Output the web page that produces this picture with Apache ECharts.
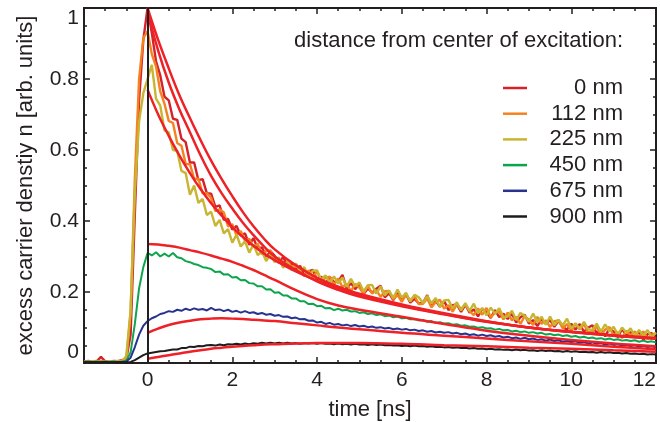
<!DOCTYPE html>
<html>
<head>
<meta charset="utf-8">
<script src="https://cdn.jsdelivr.net/npm/echarts@6/dist/echarts.min.js"></script>
<style>html,body{margin:0;padding:0;background:#fff}#c{width:660px;height:422px}</style>
</head>
<body>
<div id="c"></div>
<script>
// ---- sampling grid of the measured traces (ns) ----
const T0 = -1.5, DT = 0.1;

const sig0 = [
0.004,0.006,0.003,0.005,0.017,0.005,0.004,0.006,0.005,0.008,
0.012,0.08,0.42,0.74,0.91,1.0,0.93,0.85,0.81,0.75,
0.74,0.688,0.685,0.632,0.622,0.565,0.565,0.515,0.518,0.478,
0.477,0.44,0.444,0.403,0.406,0.376,0.386,0.359,0.365,0.333,
0.352,0.322,0.326,0.299,0.315,0.302,0.282,0.299,0.275,0.28,
0.262,0.274,0.246,0.258,0.262,0.235,0.243,0.224,0.242,0.228,
0.23,0.248,0.21,0.225,0.208,0.222,0.194,0.21,0.198,0.209,
0.218,0.185,0.197,0.177,0.197,0.181,0.194,0.17,0.181,0.168,
0.169,0.191,0.158,0.175,0.158,0.175,0.149,0.163,0.165,0.144,
0.164,0.142,0.151,0.131,0.153,0.142,0.127,0.149,0.129,0.139,
0.124,0.139,0.114,0.129,0.136,0.111,0.121,0.104,0.124,0.111,
0.121,0.102,0.119,0.101,0.094,0.111,0.094,0.11,0.088,0.1,
0.106,0.084,0.094,0.075,0.097,0.088,0.073,0.096,0.077,0.087,
0.073,0.089,0.065,0.081,0.084,0.068];

const sig112 = [
0.003,0.005,0.004,0.004,0.006,0.005,0.003,0.005,0.004,0.006,
0.015,0.14,0.52,0.8,0.915,0.935,0.87,0.835,0.765,0.73,
0.682,0.676,0.62,0.612,0.561,0.56,0.519,0.519,0.478,0.478,
0.465,0.428,0.433,0.424,0.385,0.391,0.359,0.372,0.344,0.35,
0.326,0.336,0.306,0.315,0.317,0.287,0.293,0.271,0.287,0.27,
0.28,0.258,0.245,0.261,0.241,0.258,0.23,0.24,0.243,0.22,
0.238,0.214,0.223,0.202,0.223,0.212,0.196,0.217,0.196,0.205,
0.186,0.202,0.203,0.18,0.192,0.172,0.192,0.176,0.189,0.166,
0.167,0.182,0.157,0.171,0.178,0.153,0.163,0.145,0.165,0.152,
0.165,0.146,0.135,0.154,0.136,0.155,0.129,0.141,0.145,0.123,
0.142,0.12,0.13,0.11,0.132,0.122,0.107,0.13,0.11,0.12,
0.101,0.118,0.12,0.097,0.11,0.09,0.11,0.095,0.109,0.086,
0.088,0.103,0.078,0.094,0.101,0.077,0.087,0.07,0.091,0.078,
0.089,0.072,0.089,0.068,0.08,0.084];

const sig225 = [
0.004,0.003,0.005,0.006,0.004,0.003,0.005,0.004,0.006,0.005,
0.02,0.15,0.48,0.68,0.76,0.8,0.84,0.745,0.725,0.655,
0.65,0.6,0.598,0.541,0.535,0.474,0.5,0.451,0.462,0.417,
0.426,0.386,0.403,0.365,0.377,0.339,0.362,0.328,0.343,0.311,
0.334,0.304,0.314,0.287,0.308,0.284,0.298,0.268,0.284,0.262,
0.28,0.26,0.27,0.243,0.26,0.261,0.234,0.247,0.226,0.244,
0.224,0.241,0.215,0.237,0.216,0.227,0.202,0.219,0.22,0.195,
0.216,0.19,0.204,0.183,0.207,0.184,0.198,0.173,0.192,0.185,
0.169,0.189,0.168,0.183,0.158,0.176,0.178,0.154,0.171,0.148,
0.169,0.147,0.167,0.14,0.155,0.134,0.156,0.139,0.154,0.129,
0.131,0.147,0.121,0.141,0.133,0.116,0.139,0.115,0.13,0.108,
0.131,0.106,0.122,0.106,0.125,0.097,0.112,0.096,0.116,0.095,
0.093,0.111,0.088,0.109,0.089,0.102,0.08,0.1,0.085,0.098,
0.076,0.093,0.077,0.093,0.072,0.086];

const sig450 = [
0.003,0.004,0.003,0.004,0.003,0.004,0.003,0.004,0.003,0.004,
0.006,0.03,0.11,0.21,0.27,0.31,0.303,0.312,0.3,0.308,
0.3,0.31,0.298,0.295,0.287,0.284,0.279,0.276,0.27,0.268,
0.265,0.256,0.258,0.249,0.25,0.241,0.242,0.233,0.234,0.225,
0.224,0.216,0.216,0.207,0.208,0.198,0.199,0.19,0.19,0.182,
0.182,0.174,0.174,0.166,0.167,0.16,0.161,0.154,0.155,0.149,
0.153,0.148,0.15,0.145,0.146,0.141,0.143,0.138,0.14,0.135,
0.137,0.132,0.134,0.129,0.131,0.126,0.127,0.123,0.124,0.12,
0.121,0.116,0.118,0.113,0.115,0.111,0.112,0.108,0.109,0.105,
0.106,0.102,0.103,0.099,0.101,0.097,0.098,0.094,0.096,0.092,
0.093,0.089,0.091,0.087,0.089,0.085,0.087,0.083,0.085,0.08,
0.082,0.078,0.08,0.076,0.078,0.074,0.076,0.072,0.074,0.07,
0.072,0.068,0.07,0.066,0.069,0.065,0.067,0.063,0.065,0.062,
0.064,0.06,0.063,0.059,0.061,0.058];

const sig675 = [
0.003,0.002,0.003,0.002,0.003,0.002,0.003,0.002,0.003,0.003,
0.004,0.015,0.045,0.08,0.105,0.118,0.126,0.131,0.138,0.141,
0.146,0.144,0.15,0.147,0.153,0.149,0.154,0.15,0.152,0.148,
0.155,0.149,0.151,0.146,0.15,0.144,0.147,0.142,0.146,0.141,
0.143,0.138,0.141,0.136,0.138,0.133,0.135,0.13,0.131,0.126,
0.128,0.123,0.124,0.119,0.12,0.114,0.116,0.11,0.113,0.108,
0.11,0.106,0.108,0.104,0.107,0.103,0.105,0.101,0.103,0.099,
0.101,0.097,0.099,0.095,0.097,0.094,0.096,0.092,0.094,0.09,
0.092,0.088,0.09,0.086,0.088,0.085,0.087,0.083,0.085,0.081,
0.083,0.079,0.081,0.077,0.08,0.076,0.078,0.074,0.076,0.072,
0.074,0.07,0.072,0.068,0.071,0.067,0.069,0.065,0.067,0.063,
0.066,0.062,0.064,0.06,0.062,0.059,0.061,0.057,0.059,0.055,
0.058,0.054,0.056,0.052,0.055,0.051,0.053,0.049,0.051,0.048,
0.05,0.046,0.049,0.045,0.047,0.044];

const sig900 = [
0.002,0.002,0.003,0.002,0.002,0.003,0.002,0.002,0.003,0.002,
0.002,0.003,0.008,0.015,0.022,0.027,0.029,0.031,0.033,0.034,
0.036,0.038,0.038,0.042,0.042,0.046,0.045,0.048,0.047,0.05,
0.051,0.049,0.052,0.05,0.053,0.052,0.054,0.052,0.055,0.053,
0.056,0.054,0.057,0.055,0.057,0.055,0.057,0.055,0.057,0.055,
0.056,0.054,0.056,0.055,0.056,0.054,0.056,0.054,0.055,0.053,
0.055,0.053,0.054,0.052,0.054,0.052,0.053,0.051,0.053,0.051,
0.052,0.05,0.051,0.049,0.05,0.048,0.049,0.047,0.049,0.047,
0.048,0.046,0.047,0.045,0.046,0.044,0.045,0.043,0.044,0.042,
0.043,0.041,0.042,0.04,0.041,0.039,0.04,0.038,0.039,0.037,
0.038,0.036,0.038,0.036,0.037,0.035,0.036,0.034,0.036,0.034,
0.035,0.033,0.034,0.032,0.034,0.032,0.033,0.031,0.032,0.03,
0.031,0.029,0.031,0.029,0.03,0.028,0.029,0.027,0.028,0.026,
0.027,0.025,0.026,0.024,0.025,0.024];

// ---- model fits (red curves) ----
const fitT   = [0,0.25,0.5,0.75,1,1.25,1.5,1.75,2,2.25,2.5,2.75,3,3.5,4,4.5,5,6,7,8,9,10,11,12];
const fit0   = [1.0,0.91,0.83,0.755,0.69,0.628,0.57,0.518,0.47,0.425,0.385,0.35,0.32,0.275,0.24,0.215,0.195,0.165,0.14,0.118,0.1,0.088,0.078,0.07];
const fit112 = [0.99,0.88,0.79,0.715,0.65,0.585,0.527,0.478,0.435,0.395,0.36,0.328,0.3,0.262,0.23,0.206,0.187,0.16,0.137,0.116,0.1,0.087,0.077,0.069];
const fit225 = [0.77,0.70,0.64,0.585,0.535,0.49,0.45,0.415,0.383,0.355,0.33,0.308,0.29,0.258,0.232,0.21,0.19,0.162,0.138,0.117,0.1,0.087,0.077,0.068];
const fit450 = [0.335,0.334,0.33,0.325,0.318,0.311,0.303,0.294,0.285,0.274,0.262,0.248,0.234,0.205,0.18,0.162,0.15,0.13,0.11,0.091,0.077,0.065,0.055,0.047];
const fit675 = [0.085,0.097,0.107,0.114,0.119,0.123,0.125,0.126,0.125,0.124,0.122,0.12,0.118,0.112,0.106,0.1,0.095,0.085,0.077,0.069,0.061,0.054,0.046,0.039];
const fit900 = [0.012,0.017,0.022,0.027,0.032,0.036,0.04,0.043,0.046,0.048,0.05,0.052,0.053,0.055,0.056,0.056,0.056,0.054,0.05,0.047,0.043,0.04,0.036,0.032];

const names = ['0 nm','112 nm','225 nm','450 nm','675 nm','900 nm'];
const signals = [sig0, sig112, sig225, sig450, sig675, sig900];
const fits = [fit0, fit112, fit225, fit450, fit675, fit900];
const colors = ['#d6202a','#f5821f','#c8b531','#0ca54d','#27338f','#1e1c1d'];
const widths = [2.4, 2.4, 2.4, 2, 2, 2];
const fitColor = '#ee2127';

const xMajor = [0,2,4,6,8,10,12];
const xMinor = [-1.5,-1,-0.5,0,0.5,1,1.5,2,2.5,3,3.5,4,4.5,5,5.5,6,6.5,7,7.5,8,8.5,9,9.5,10,10.5,11,11.5,12];

const FONT = 'Liberation Sans, Arial, Helvetica, sans-serif';
const INK = '#231f20';

const series = [];
signals.forEach((s, k) => {
  series.push({
    name: names[k], type: 'line', showSymbol: false, symbol: 'none',
    color: colors[k], itemStyle: {color: colors[k]},
    lineStyle: {color: colors[k], width: widths[k]}, z: 2,
    data: s.map((v, i) => [+(T0 + DT * i).toFixed(2), v])
  });
});
fits.forEach((f, k) => {
  series.push({
    name: 'fit ' + names[k], type: 'line', showSymbol: false, symbol: 'none', smooth: 0.4,
    lineStyle: {color: fitColor, width: 2.5}, z: 3,
    data: f.map((v, i) => [fitT[i], v])
  });
});
series.push({
  name: 'zero', type: 'line', data: [], z: 10,
  markLine: {symbol: ['none','none'], silent: true, animation: false, label: {show: false},
    lineStyle: {color: INK, width: 2, type: 'solid'}, data: [{xAxis: 0}]}
});

const axLine = {show: true, onZero: false, lineStyle: {color: INK, width: 2}};
function xAx(pos, ticks, len, labels) {
  return {
    type: 'value', min: -1.5, max: 12, position: pos,
    axisLine: axLine,
    axisTick: {show: true, inside: true, length: len, customValues: ticks, lineStyle: {color: INK, width: 1.5}},
    axisLabel: labels ? {show: true, customValues: xMajor, fontSize: 21, color: INK, fontFamily: FONT, margin: 7, alignMaxLabel: 'right'} : {show: false},
    splitLine: {show: false}
  };
}
function yAx(pos, interval, len, labels) {
  return {
    type: 'value', min: 0, max: 1, interval: interval, position: pos,
    axisLine: axLine,
    axisTick: {show: true, inside: true, length: len, lineStyle: {color: INK, width: 1.5}},
    axisLabel: labels ? {show: true, fontSize: 21, color: INK, fontFamily: FONT, margin: 5,
      verticalAlignMinLabel: 'bottom', verticalAlignMaxLabel: 'top'} : {show: false},
    splitLine: {show: false}
  };
}

const xAxes = [xAx('bottom', xMajor, 6, true), xAx('bottom', xMinor, 3, false), xAx('top', xMajor, 6, false), xAx('top', xMinor, 3, false)];
Object.assign(xAxes[0], {name: 'time [ns]', nameLocation: 'middle', nameGap: 36,
  nameTextStyle: {fontSize: 22, color: INK, fontFamily: FONT}});
const yAxes = [yAx('left', 0.2, 6, true), yAx('left', 0.05, 3, false), yAx('right', 0.2, 6, false), yAx('right', 0.05, 3, false)];
Object.assign(yAxes[0], {name: 'excess carrier denstiy n [arb. units]', nameLocation: 'middle', nameGap: 47,
  nameTextStyle: {fontSize: 22, color: INK, fontFamily: FONT}});

const chart = echarts.init(document.getElementById('c'), null, {renderer: 'canvas'});
chart.setOption({
  animation: false,
  backgroundColor: '#fff',
  grid: {left: 84, right: 4, top: 8, bottom: 59, containLabel: false, outerBoundsMode: 'none'},
  title: {text: 'distance from center of excitation:', right: 37, top: 30, padding: 0,
    textStyle: {fontSize: 22, fontWeight: 'normal', color: INK, fontFamily: FONT}},
  legend: {
    data: names, orient: 'vertical', left: 503, top: 77, padding: 0, itemGap: 3.7,
    icon: 'rect', itemWidth: 24, itemHeight: 2.5, selectedMode: false,
    formatter: n => '{a|' + n + '}',
    textStyle: {fontSize: 22, color: INK, fontFamily: FONT,
      rich: {a: {width: 91, align: 'right', fontSize: 22, color: INK, fontFamily: FONT}}}
  },
  xAxis: xAxes,
  yAxis: yAxes,
  series: series
});
</script>
</body>
</html>
